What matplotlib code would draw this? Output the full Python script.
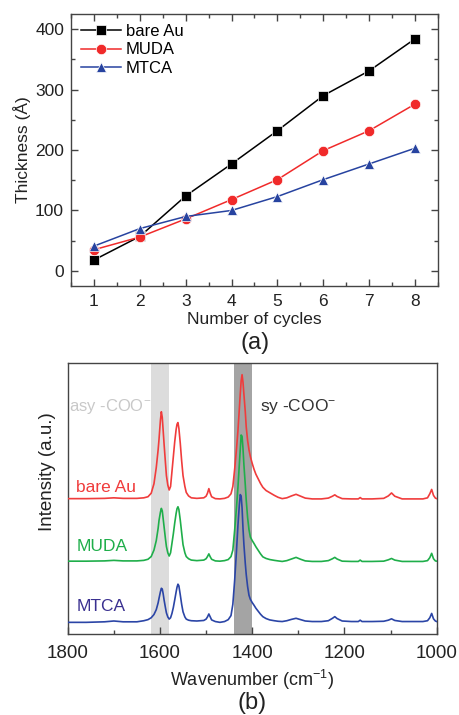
import matplotlib
matplotlib.use("Agg")
import matplotlib.pyplot as plt
from matplotlib.ticker import MultipleLocator

plt.rcParams['font.family'] = ['Liberation Sans', 'DejaVu Sans']
plt.rcParams['mathtext.fontset'] = 'custom'
plt.rcParams['mathtext.rm'] = 'Liberation Sans'
plt.rcParams['mathtext.it'] = 'Liberation Sans'

# ---------------- (a) thickness data ----------------
cycles = [1, 2, 3, 4, 5, 6, 7, 8]
bare_au = [18, 57, 124, 177, 232, 290, 331, 384]
muda = [35, 56, 86, 118, 151, 199, 232, 276]
mtca = [41, 70, 90, 100, 123, 151, 177, 203]

# ---------------- (b) spectra data ----------------
wavenumber = [1800, 1760, 1720, 1700, 1680, 1650, 1635, 1626, 1619, 1613, 1608, 1604, 1602, 1599,
              1597, 1595, 1593, 1591, 1588, 1586, 1583, 1580, 1577, 1574, 1571, 1568, 1565, 1563,
              1561, 1559, 1556, 1553, 1550, 1546, 1543, 1538, 1532, 1520, 1505, 1500, 1497, 1494,
              1491, 1488, 1480, 1470, 1460, 1452, 1446, 1442, 1438, 1434, 1431, 1428, 1426, 1424,
              1422, 1420, 1418, 1415, 1413, 1410, 1407, 1404, 1400, 1396, 1392, 1387, 1382, 1377,
              1370, 1362, 1352, 1344, 1335, 1325, 1315, 1305, 1295, 1285, 1270, 1250, 1235, 1226,
              1221, 1216, 1205, 1185, 1170, 1166, 1162, 1140, 1115, 1105, 1098, 1091, 1075, 1050,
              1030, 1020, 1015, 1011, 1007, 1003, 1000]

spec_bare_au = [50.0, 50.0, 50.1, 50.3, 50.1, 50.1, 50.3, 50.7, 52.0, 55.5, 61.5, 68.0, 72.0, 79.0,
                82.1, 80.0, 75.0, 70.0, 63.0, 58.5, 55.0, 53.2, 54.5, 60.0, 65.5, 71.0, 75.5, 77.5,
                78.1, 76.0, 70.5, 64.0, 58.5, 54.5, 52.3, 51.0, 50.3, 50.1, 50.3, 50.9, 52.0, 53.7,
                52.0, 50.7, 50.0, 49.9, 50.1, 50.6, 51.8, 54.5, 61.0, 68.5, 75.0, 83.0, 88.5, 93.5,
                95.8, 93.0, 88.5, 82.0, 76.5, 71.5, 68.0, 65.5, 63.0, 60.8, 59.0, 57.3, 55.6, 54.2,
                53.0, 52.2, 51.2, 50.5, 50.0, 50.3, 51.0, 51.6, 50.9, 50.2, 49.9, 49.9, 50.2, 50.9,
                51.4, 50.8, 50.0, 49.9, 49.9, 50.4, 49.9, 49.9, 50.1, 51.0, 52.1, 50.9, 49.9, 49.9,
                49.9, 50.3, 51.8, 53.4, 51.2, 50.2, 50.0]

spec_muda = [26.9, 26.9, 27.0, 27.2, 27.0, 27.0, 27.2, 27.6, 28.6, 31.0, 34.5, 39.0, 42.0, 45.0,
             46.4, 45.5, 42.5, 39.5, 35.0, 32.3, 30.0, 28.8, 30.0, 33.5, 37.0, 41.0, 44.5, 46.3,
             47.0, 46.0, 42.1, 37.5, 33.0, 30.0, 28.6, 27.8, 27.3, 27.1, 27.3, 27.8, 28.6, 29.6,
             28.5, 27.6, 27.0, 26.9, 27.1, 27.5, 28.6, 31.0, 38.5, 47.0, 54.0, 62.5, 68.0, 73.5,
             73.0, 68.5, 62.5, 55.0, 49.5, 43.0, 38.5, 35.8, 34.5, 33.4, 32.2, 30.9, 29.6, 28.5,
             27.9, 27.5, 27.2, 27.0, 26.8, 27.1, 27.7, 28.3, 27.6, 27.0, 26.8, 26.8, 27.1, 27.8,
             28.3, 27.7, 26.9, 26.8, 26.8, 27.3, 26.8, 26.8, 26.9, 27.4, 27.9, 27.3, 26.8, 26.8,
             26.8, 27.1, 28.2, 29.8, 27.8, 27.0, 26.9]

spec_mtca = [4.3, 4.3, 4.5, 4.8, 4.5, 4.5, 4.9, 5.3, 6.0, 7.2, 9.0, 11.5, 13.2, 15.6,
             16.9, 16.6, 14.8, 12.5, 9.6, 7.8, 6.3, 5.5, 6.0, 7.6, 9.8, 12.6, 15.5, 17.3,
             18.4, 17.8, 14.5, 11.0, 8.2, 6.3, 5.5, 5.1, 4.9, 4.8, 5.0, 5.5, 6.3, 7.4,
             6.3, 5.2, 4.6, 4.3, 4.6, 5.3, 6.8, 11.0, 20.0, 31.0, 40.0, 47.5, 51.5, 51.0,
             46.5, 39.0, 33.0, 26.0, 22.0, 17.5, 14.3, 12.8, 11.6, 10.6, 9.5, 8.4, 7.3, 6.4,
             5.7, 5.2, 4.9, 4.7, 4.6, 4.9, 5.4, 5.8, 5.3, 4.8, 4.6, 4.6, 4.9, 5.8,
             6.4, 5.7, 4.8, 4.6, 4.6, 5.1, 4.6, 4.6, 4.7, 5.1, 5.6, 5.0, 4.6, 4.6,
             4.6, 4.9, 6.0, 7.6, 5.6, 4.8, 4.6]

asy_band = (1620, 1580)
sy_band = (1440, 1400)

# ---------------- figure ----------------
fig = plt.figure(figsize=(4.59, 7.15), dpi=100)
spine_c = '#444444'
txt_c = '#222222'

ax1 = fig.add_axes([0.1547, 0.600, 0.7995, 0.3804])
ax1.plot(cycles, bare_au, '-s', color='black', lw=1.1, ms=7, mec='white', mew=0.5, label='bare Au', zorder=3)
ax1.plot(cycles, muda, '-o', color='#f02a2a', mfc='#f02a2a', lw=1.1, ms=7.5, mec='white', mew=0.5, label='MUDA', zorder=4)
ax1.plot(cycles, mtca, '-^', color='#2743a0', lw=1.1, ms=7.5, mec='white', mew=0.5, label='MTCA', zorder=5)
ax1.set_xlim(0.5, 8.5)
ax1.set_ylim(-25, 425)
ax1.xaxis.set_major_locator(MultipleLocator(1))
ax1.xaxis.set_minor_locator(MultipleLocator(0.5))
ax1.yaxis.set_major_locator(MultipleLocator(100))
ax1.yaxis.set_minor_locator(MultipleLocator(50))
ax1.tick_params(which='both', direction='in', top=True, right=True, colors=spine_c,
                labelcolor=txt_c, labelsize=12.5)
ax1.tick_params(which='major', length=5, width=1)
ax1.tick_params(which='minor', length=3, width=1)
ax1.tick_params(axis='x', pad=6)
ax1.tick_params(axis='y', pad=5)
for s in ax1.spines.values():
    s.set_color(spine_c)
    s.set_linewidth(1.0)
ax1.set_xlabel('Number of cycles', fontsize=12.5, color=txt_c)
ax1.set_ylabel('Thickness (Å)', fontsize=12.5, color=txt_c)
ax1.xaxis.set_label_coords(0.5, -0.097)
ax1.yaxis.set_label_coords(-0.108, 0.5)
leg = ax1.legend(loc='upper left', frameon=False, fontsize=12, handlelength=2.4,
                 handletextpad=0.3, labelspacing=0.2, borderaxespad=0.2,
                 bbox_to_anchor=(0.0, 1.0))
fig.text(0.555, 0.520, '(a)', ha='center', va='center', fontsize=17, color=txt_c)

ax2 = fig.add_axes([0.1475, 0.1133, 0.804, 0.3786])
ax2.axvspan(asy_band[0], asy_band[1], color='#dcdcdc', lw=0, zorder=0)
ax2.axvspan(sy_band[0], sy_band[1], color='#a4a4a4', lw=0, zorder=0)
ax2.plot(wavenumber, spec_bare_au, color='#f03c3c', lw=1.2, zorder=3)
ax2.plot(wavenumber, spec_muda, color='#1fae4a', lw=1.2, zorder=3)
ax2.plot(wavenumber, spec_mtca, color='#2b45a6', lw=1.2, zorder=3)
ax2.set_xlim(1800, 1000)
ax2.set_ylim(0, 100)
ax2.xaxis.set_major_locator(MultipleLocator(200))
ax2.xaxis.set_minor_locator(MultipleLocator(100))
ax2.set_yticks([])
ax2.tick_params(which='both', direction='in', top=False, right=False, left=False,
                colors=spine_c, labelcolor=txt_c, labelsize=13.5)
ax2.tick_params(which='major', length=5, width=1)
ax2.tick_params(which='minor', length=3, width=1)
ax2.tick_params(axis='x', pad=8)
for s in ax2.spines.values():
    s.set_color(spine_c)
    s.set_linewidth(1.0)
ax2.set_xlabel('Wavenumber (cm$^{-1}$)', fontsize=13, color=txt_c)
ax2.set_ylabel('Intensity (a.u.)', fontsize=13.5, color=txt_c)
ax2.xaxis.set_label_coords(0.5, -0.125)
ax2.yaxis.set_label_coords(-0.033, 0.598)

ax2.text(1797, 84.2, 'asy -COO$^{-}$', color='#c8c8c8', fontsize=12, ha='left', va='center')
ax2.text(1383, 84.0, 'sy -COO$^{-}$', color='#333333', fontsize=12.5, ha='left', va='center')
ax2.text(1781, 54.0, 'bare Au', color='#f03c3c', fontsize=12.5, ha='left', va='center')
ax2.text(1781, 32.3, 'MUDA', color='#1fae4a', fontsize=12.5, ha='left', va='center')
ax2.text(1781, 10.1, 'MTCA', color='#3a3090', fontsize=12.5, ha='left', va='center')
fig.text(0.55, 0.017, '(b)', ha='center', va='center', fontsize=17, color=txt_c)

fig.savefig('out.png', dpi=100)
